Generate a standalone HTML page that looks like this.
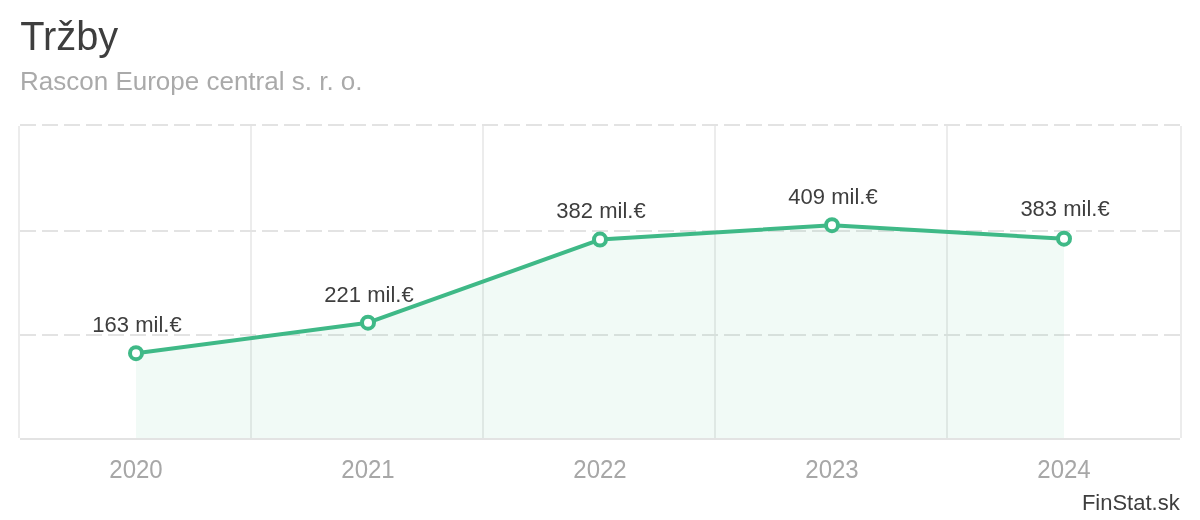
<!DOCTYPE html>
<html lang="sk">
<head>
<meta charset="utf-8">
<title>Tržby</title>
<style>
html,body{margin:0;padding:0;background:#fff;}
body{width:1200px;height:520px;overflow:hidden;font-family:"Liberation Sans",Arial,sans-serif;}
svg{display:block;}
text{font-family:"Liberation Sans",Arial,sans-serif;}
</style>
</head>
<body>
<svg width="1200" height="520" viewBox="0 0 1200 520">
  <rect x="0" y="0" width="1200" height="520" fill="#ffffff"/>
  <text id="title" x="20.2" y="49.6" font-size="39.8" fill="#3e3e3e">Tržby</text>
  <text id="sub" x="20" y="90" font-size="26" fill="#aaaaaa">Rascon Europe central s. r. o.</text>

  <!-- vertical grid -->
  <g fill="#ececec" shape-rendering="crispEdges">
    <rect x="18" y="126" width="2" height="312"/>
    <rect x="250" y="126" width="2" height="312"/>
    <rect x="482" y="126" width="2" height="312"/>
    <rect x="714" y="126" width="2" height="312"/>
    <rect x="946" y="126" width="2" height="312"/>
    <rect x="1180" y="126" width="2" height="312"/>
  </g>
  <!-- horizontal dashed grid -->
  <g stroke="#e3e3e3" stroke-width="2" fill="none" stroke-dasharray="16 6" shape-rendering="crispEdges">
    <line x1="20" y1="125" x2="1180" y2="125"/>
    <line x1="20" y1="231" x2="1180" y2="231"/>
    <line x1="20" y1="335" x2="1180" y2="335"/>
  </g>
  <rect x="20" y="438" width="1160" height="2" fill="#e3e3e3" shape-rendering="crispEdges"/>

  <!-- area fill -->
  <polygon points="136,353.2 368,322.7 600,239.6 832,225.2 1064,238.7 1064,438 136,438" fill="#3fb987" fill-opacity="0.075"/>

  <!-- line -->
  <polyline points="136,353.2 368,322.7 600,239.6 832,225.2 1064,238.7" fill="none" stroke="#3fb987" stroke-width="4" stroke-linejoin="round" stroke-linecap="round"/>
  <g fill="#ffffff" stroke="#3fb987" stroke-width="4">
    <circle cx="136" cy="353.2" r="6"/>
    <circle cx="368" cy="322.7" r="6"/>
    <circle cx="600" cy="239.6" r="6"/>
    <circle cx="832" cy="225.2" r="6"/>
    <circle cx="1064" cy="238.7" r="6"/>
  </g>

  <!-- value labels -->
  <g font-size="22" fill="#3e3e3e" text-anchor="middle">
    <text x="137" y="332" transform="matrix(1 0 0 1.04 0 -13.280)">163 mil.€</text>
    <text x="369" y="302" transform="matrix(1 0 0 1.04 0 -12.080)">221 mil.€</text>
    <text x="601" y="218" transform="matrix(1 0 0 1.04 0 -8.720)">382 mil.€</text>
    <text x="833" y="204" transform="matrix(1 0 0 1.04 0 -8.160)">409 mil.€</text>
    <text x="1065" y="216" transform="matrix(1 0 0 1.04 0 -8.640)">383 mil.€</text>
  </g>

  <!-- x axis labels -->
  <g font-size="24" fill="#a7a7a7" text-anchor="middle">
    <text x="136" y="478" transform="matrix(1 0 0 1.040 0 -19.120)">2020</text>
    <text x="368" y="478" transform="matrix(1 0 0 1.040 0 -19.120)">2021</text>
    <text x="600" y="478" transform="matrix(1 0 0 1.040 0 -19.120)">2022</text>
    <text x="832" y="478" transform="matrix(1 0 0 1.040 0 -19.120)">2023</text>
    <text x="1064" y="478" transform="matrix(1 0 0 1.040 0 -19.120)">2024</text>
  </g>

  <text x="1179.7" y="509.5" font-size="22" fill="#3e3e3e" text-anchor="end" transform="matrix(1 0 0 1.04 0 -19.6)">FinStat.sk</text>
</svg>
</body>
</html>
